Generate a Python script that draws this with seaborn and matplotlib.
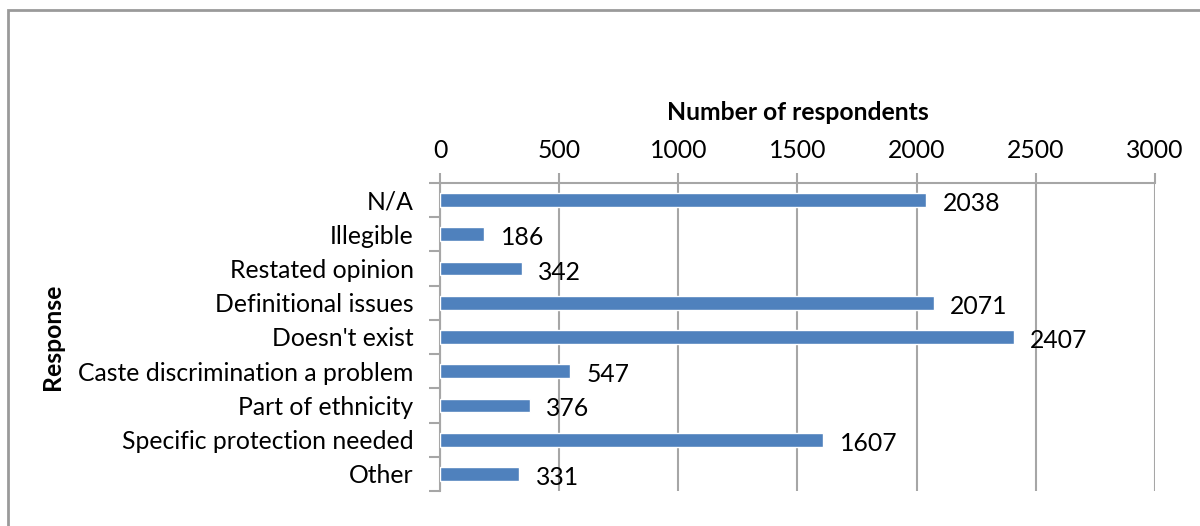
import matplotlib
matplotlib.use("Agg")
import matplotlib.pyplot as plt
import seaborn as sns
import pandas as pd
from matplotlib.patches import Rectangle

categories = [
    "N/A",
    "Illegible",
    "Restated opinion",
    "Definitional issues",
    "Doesn't exist",
    "Caste discrimination a problem",
    "Part of ethnicity",
    "Specific protection needed",
    "Other",
]
counts = [2038, 186, 342, 2071, 2407, 547, 376, 1607, 331]
x_ticks = [0, 500, 1000, 1500, 2000, 2500, 3000]

df = pd.DataFrame({"Response": categories, "Number of respondents": counts})

sns.set_theme(style="white")
plt.rcParams["font.family"] = ["Lato", "DejaVu Sans"]

FS = 17.8
GRID = "#A6A6A6"
BAR = "#4F81BD"

fig = plt.figure(figsize=(12, 5.26), dpi=100)
ax = fig.add_axes([440 / 1200, 1 - 491 / 526, 715 / 1200, 308 / 526])

sns.barplot(data=df, y="Response", x="Number of respondents", orient="h",
            color=BAR, width=0.4, saturation=1, ax=ax, zorder=3)

ax.set_xlim(0, 3000)
ax.set_ylim(len(categories) - 0.5, -0.5)
ax.set_xticks(x_ticks)
ax.xaxis.tick_top()
ax.xaxis.set_label_position("top")
ax.set_xticklabels([str(t) for t in x_ticks], fontsize=FS, color="black")
ax.set_xlabel("Number of respondents", fontsize=FS, fontweight="bold",
              color="black", labelpad=14)
ax.set_ylabel("Response", fontsize=FS, fontweight="bold", color="black",
              labelpad=10)
ax.tick_params(axis="x", which="major", length=7, width=1.5, color=GRID, pad=8)

# category labels without marks; marks at the category boundaries instead
ax.set_yticks(range(len(categories)))
ax.set_yticklabels(categories, fontsize=FS, color="black")
ax.tick_params(axis="y", which="major", length=0, pad=19)
ax.set_yticks([i - 0.5 for i in range(len(categories) + 1)], minor=True)
ax.tick_params(axis="y", which="minor", length=8, width=1.5, color=GRID, left=True)

ax.grid(axis="x", color=GRID, linewidth=1.5, zorder=0)
ax.grid(axis="y", visible=False)
for side in ("right", "bottom"):
    ax.spines[side].set_visible(False)
for side in ("top", "left"):
    ax.spines[side].set_color(GRID)
    ax.spines[side].set_linewidth(1.5)

for i, v in enumerate(counts):
    ax.annotate(str(v), xy=(v, i), xytext=(12, -2.5), textcoords="offset points",
                ha="left", va="center", fontsize=FS, color="black", zorder=5)

# chart frame
fig.patches.append(Rectangle((8 / 1200, -0.1), 1.2, 1 - 10 / 526 + 0.1,
                             transform=fig.transFigure, fill=False,
                             edgecolor="#9A9A9A", linewidth=2))

fig.savefig("out.png", dpi=100)
